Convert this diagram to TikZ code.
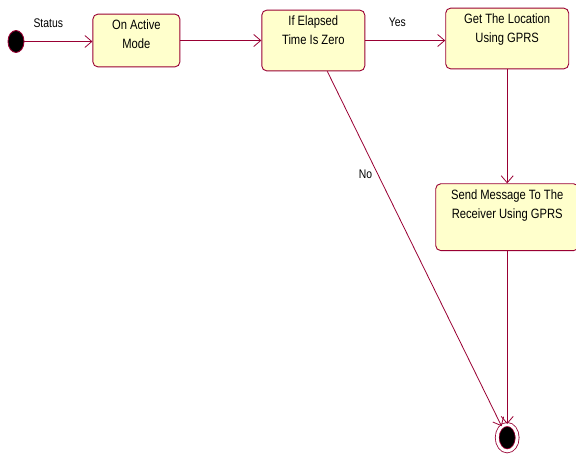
\documentclass[tikz,border=0pt]{standalone}
\usepackage{fontspec}
\setmainfont{Liberation Sans}[FakeStretch=0.83]
\usetikzlibrary{shapes,arrows.meta,positioning,calc}
\definecolor{umlred}{RGB}{153,0,51}
\definecolor{umlyellow}{RGB}{255,255,204}
\newcommand{\lbl}[1]{{\fontsize{12.5}{14}\selectfont #1}}

\begin{document}
\begin{tikzpicture}[
    x=1pt, y=1pt,
    font=\fontsize{13.5}{19}\selectfont,
    actblock/.style = {rectangle, draw=umlred, line width=0.9pt, fill=umlyellow, rounded corners=5pt, align=center, inner xsep=4pt, inner ysep=6pt},
    initstate/.style = {ellipse, draw=umlred, line width=0.9pt, fill=black, minimum width=16pt, minimum height=22pt, inner sep=0pt},
    finalstate/.style = {ellipse, draw=umlred, line width=0.8pt, double=white, double distance=3pt, fill=black, minimum width=20pt, minimum height=26.5pt, inner sep=0pt},
    flow/.style = {draw=umlred, line width=0.8pt, -{Straight Barb[length=7pt,width=12pt]}},
    ]
        \useasboundingbox (0,0) rectangle (576,-456);

        % Nodes
        \node[initstate] (start) at (16,-41.5) {};
        \node[actblock, minimum width=87pt, text depth=12pt, right=68pt of start, yshift=1pt] (active) {On Active\\Mode};
        \node[actblock, minimum width=103pt, text depth=20pt, right=81pt of active] (elapsed) {If Elapsed\\Time Is Zero};
        \node[actblock, minimum width=123pt, text depth=20pt, right=80pt of elapsed, yshift=2pt] (location) {Get The Location\\Using GPRS};
        %
        \node[actblock, minimum width=143pt, text depth=26pt, below=114pt of location] (message) {Send Message To The\\Receiver Using GPRS};
        %
        \node[finalstate, below=173pt of message] (final) {};

        % Draw
        \draw[flow] (start.east) -- node[above=10pt, pos=0.35, text=black] {\lbl{Status}} (start.east -| active.west);
        \draw[flow] (active) -- (active -| elapsed.west);
        \draw[flow] (elapsed) -- node[above=10pt, pos=0.4, text=black] {\lbl{Yes}} (elapsed -| location.west);
        \draw[flow] (location) -- (message);
        \draw[flow] (message) -- (final);
        \draw[flow] ([xshift=14pt]elapsed.south) -- node[left=2pt, pos=0.29, text=black] {\lbl{No}} (final);
    \end{tikzpicture}
\end{document}
